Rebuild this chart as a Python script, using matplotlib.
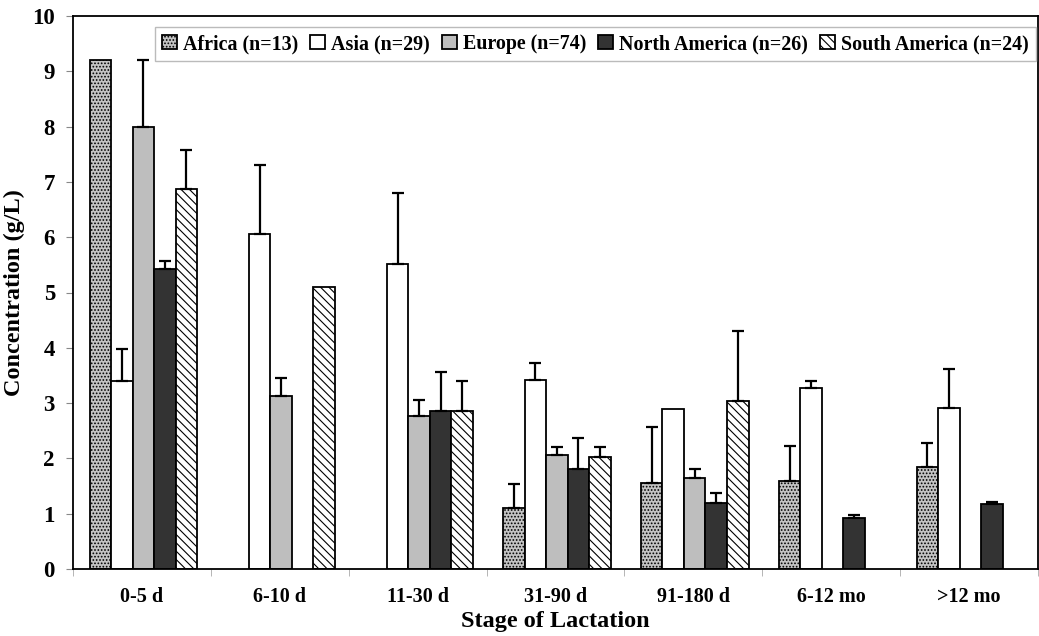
import numpy as np
import matplotlib.pyplot as plt

plt.rcParams["font.family"] = ["Liberation Serif", "DejaVu Serif"]
plt.rcParams["font.weight"] = "bold"
plt.rcParams["hatch.linewidth"] = 0.8

stages = ["0-5 d", "6-10 d", "11-30 d", "31-90 d", "91-180 d", "6-12 mo", ">12 mo"]
regions = ["Africa (n=13)", "Asia (n=29)", "Europe (n=74)",
           "North America (n=26)", "South America (n=24)"]

nan = np.nan
africa = [9.2, nan, nan, 1.1, 1.55, 1.6, 1.85]
africa_top = [nan, nan, nan, 1.53, 2.56, 2.23, 2.27]
asia = [3.4, 6.05, 5.52, 3.42, 2.9, 3.27, 2.92]
asia_top = [3.98, 7.3, 6.8, 3.72, nan, 3.4, 3.62]
europe = [8.0, 3.12, 2.77, 2.06, 1.65, nan, nan]
europe_top = [9.2, 3.45, 3.05, 2.2, 1.8, nan, nan]
n_america = [5.43, nan, 2.85, 1.8, 1.2, 0.93, 1.17]
n_america_top = [5.57, nan, 3.57, 2.36, 1.38, 0.98, 1.21]
s_america = [6.88, 5.1, 2.86, 2.02, 3.03, nan, nan]
s_america_top = [7.58, nan, 3.4, 2.2, 4.3, nan, nan]

values = [africa, asia, europe, n_america, s_america]
tops = [africa_top, asia_top, europe_top, n_america_top, s_america_top]
faces = ["#c4c4c4", "white", "#bebebe", "#333333", "white"]
hatches = [".....", None, None, None, "\\\\\\\\"]

fig = plt.figure(figsize=(10.39, 6.36), dpi=100)
ax = fig.add_axes([73 / 1039, 1 - 569 / 636, 965 / 1039, 553 / 636])

x = np.arange(len(stages))
w = 0.156
for i in range(5):
    v = np.array(values[i], dtype=float)
    t = np.array(tops[i], dtype=float)
    pos = x + (i - 2) * w + 0.01
    ax.bar(pos, v, width=w, color=faces[i], edgecolor="black",
           linewidth=1.3, hatch=hatches[i], label=regions[i], zorder=2)
    err = t - v
    ok = ~np.isnan(err)
    ax.errorbar(pos[ok], v[ok], yerr=[np.zeros(ok.sum()), err[ok]],
                fmt="none", ecolor="black", elinewidth=1.6, capsize=4,
                capthick=1.6, zorder=3)

ax.set_xlim(-0.5, len(stages) - 0.5)
ax.set_ylim(0, 10)
ax.set_yticks(range(0, 11))
ax.set_xticks(x)
ax.set_xticklabels(stages)
ax.set_xticks(np.arange(-0.5, len(stages)), minor=True)
ax.tick_params(axis="x", which="major", length=0, pad=13, labelsize=14.5)
ax.tick_params(axis="x", which="minor", length=5, color="#aaaaaa")
ax.tick_params(axis="y", length=5, color="#888888", labelsize=16.5, pad=8)
for s in ax.spines.values():
    s.set_linewidth(1.3)

ax.set_ylabel("Concentration (g/L)", fontsize=17.5, fontweight="bold", labelpad=5)
ax.set_xlabel("Stage of Lactation", fontsize=17.5, fontweight="bold", labelpad=3)

fig.legend(loc="upper right", bbox_to_anchor=(1036 / 1039, 1 - 27 / 636),
           ncol=5, handlelength=0.75, handleheight=0.75,
           handletextpad=0.3, columnspacing=0.6, borderpad=0.35,
           borderaxespad=0, fancybox=False, edgecolor="#bbbbbb", framealpha=1,
           prop={"weight": "bold", "size": 14.4})

fig.savefig("out.png", dpi=100)
